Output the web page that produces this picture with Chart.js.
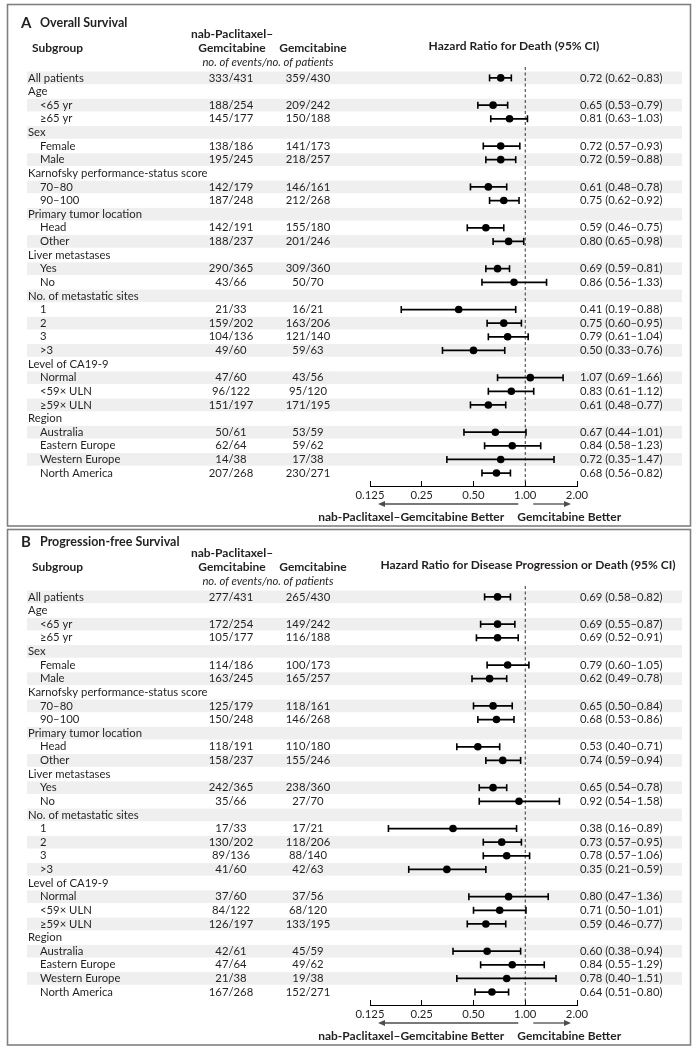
<!DOCTYPE html>
<html>
<head>
<meta charset="utf-8">
<script src="https://cdn.jsdelivr.net/npm/chart.js@4.4.1/dist/chart.umd.min.js"></script>
<style>
  body { margin: 0; background: #fff; }
  #wrap { position: relative; width: 698px; height: 1050px; }
  canvas { position: absolute; left: 0; }
  #osChart { top: 0; }
  #pfsChart { top: 519px; }
</style>
</head>
<body>
<div id="wrap">
  <canvas id="osChart" width="698" height="528"></canvas>
  <canvas id="pfsChart" width="698" height="531"></canvas>
</div>
<script>
// --- data ---
const subgroups = ['All patients', 'Age', '<65 yr', '≥65 yr', 'Sex', 'Female', 'Male',
  'Karnofsky performance-status score', '70–80', '90–100', 'Primary tumor location', 'Head', 'Other',
  'Liver metastases', 'Yes', 'No', 'No. of metastatic sites', '1', '2', '3', '>3',
  'Level of CA19-9', 'Normal', '<59× ULN', '≥59× ULN', 'Region', 'Australia', 'Eastern Europe',
  'Western Europe', 'North America'];
// 0 = group heading, 1 = indented subgroup
const indent = [0, 0, 1, 1, 0, 1, 1, 0, 1, 1, 0, 1, 1, 0, 1, 1, 0, 1, 1, 1, 1, 0, 1, 1, 1, 0, 1, 1, 1, 1];

// Overall survival
const osNab = ['333/431', null, '188/254', '145/177', null, '138/186', '195/245', null, '142/179', '187/248',
  null, '142/191', '188/237', null, '290/365', '43/66', null, '21/33', '159/202', '104/136', '49/60',
  null, '47/60', '96/122', '151/197', null, '50/61', '62/64', '14/38', '207/268'];
const osGem = ['359/430', null, '209/242', '150/188', null, '141/173', '218/257', null, '146/161', '212/268',
  null, '155/180', '201/246', null, '309/360', '50/70', null, '16/21', '163/206', '121/140', '59/63',
  null, '43/56', '95/120', '171/195', null, '53/59', '59/62', '17/38', '230/271'];
const osHR = [0.72, null, 0.65, 0.81, null, 0.72, 0.72, null, 0.61, 0.75, null, 0.59, 0.80, null, 0.69, 0.86,
  null, 0.41, 0.75, 0.79, 0.50, null, 1.07, 0.83, 0.61, null, 0.67, 0.84, 0.72, 0.68];
const osLow = [0.62, null, 0.53, 0.63, null, 0.57, 0.59, null, 0.48, 0.62, null, 0.46, 0.65, null, 0.59, 0.56,
  null, 0.19, 0.60, 0.61, 0.33, null, 0.69, 0.61, 0.48, null, 0.44, 0.58, 0.35, 0.56];
const osHigh = [0.83, null, 0.79, 1.03, null, 0.93, 0.88, null, 0.78, 0.92, null, 0.75, 0.98, null, 0.81, 1.33,
  null, 0.88, 0.95, 1.04, 0.76, null, 1.66, 1.12, 0.77, null, 1.01, 1.23, 1.47, 0.82];

// Progression-free survival
const pfsNab = ['277/431', null, '172/254', '105/177', null, '114/186', '163/245', null, '125/179', '150/248',
  null, '118/191', '158/237', null, '242/365', '35/66', null, '17/33', '130/202', '89/136', '41/60',
  null, '37/60', '84/122', '126/197', null, '42/61', '47/64', '21/38', '167/268'];
const pfsGem = ['265/430', null, '149/242', '116/188', null, '100/173', '165/257', null, '118/161', '146/268',
  null, '110/180', '155/246', null, '238/360', '27/70', null, '17/21', '118/206', '88/140', '42/63',
  null, '37/56', '68/120', '133/195', null, '45/59', '49/62', '19/38', '152/271'];
const pfsHR = [0.69, null, 0.69, 0.69, null, 0.79, 0.62, null, 0.65, 0.68, null, 0.53, 0.74, null, 0.65, 0.92,
  null, 0.38, 0.73, 0.78, 0.35, null, 0.80, 0.71, 0.59, null, 0.60, 0.84, 0.78, 0.64];
const pfsLow = [0.58, null, 0.55, 0.52, null, 0.60, 0.49, null, 0.50, 0.53, null, 0.40, 0.59, null, 0.54, 0.54,
  null, 0.16, 0.57, 0.57, 0.21, null, 0.47, 0.50, 0.46, null, 0.38, 0.55, 0.40, 0.51];
const pfsHigh = [0.82, null, 0.87, 0.91, null, 1.05, 0.78, null, 0.84, 0.86, null, 0.71, 0.94, null, 0.78, 1.58,
  null, 0.89, 0.95, 1.06, 0.59, null, 1.36, 1.01, 0.77, null, 0.94, 1.29, 1.51, 0.80];

const tickValues = [0.125, 0.25, 0.5, 1, 2];
const tickLabels = ['0.125', '0.25', '0.50', '1.00', '2.00'];

const FONT = 'Lato, "Open Sans", sans-serif';
const INK = '#231f20';

function drawArrow(ctx, from, to, y) {
  const dir = to > from ? 1 : -1;
  ctx.beginPath();
  ctx.moveTo(from, y);
  ctx.lineTo(to - dir * 6, y);
  ctx.stroke();
  ctx.beginPath();
  ctx.moveTo(to, y);
  ctx.lineTo(to - dir * 7, y - 3);
  ctx.lineTo(to - dir * 7, y + 3);
  ctx.closePath();
  ctx.fill();
}

// table text, shaded rows, frame and the "better" arrows
const forestTable = {
  id: 'forestTable',
  beforeDraw(chart, args, opts) {
    const { ctx } = chart;
    const ys = chart.scales.y;
    ctx.save();
    ctx.fillStyle = '#efefef';
    subgroups.forEach((s, i) => {
      if (i % 2) return;
      const top = ys.getPixelForValue(i - 0.5);
      const bot = ys.getPixelForValue(i + 0.5);
      ctx.fillRect(27, top + 0.5, 655, bot - top - 1);
    });
    ctx.strokeStyle = '#808080';
    ctx.lineWidth = 1.6;
    ctx.strokeRect(7.5, opts.frameTop, 683, 526 - opts.frameTop);
    ctx.restore();
  },
  afterDraw(chart, args, opts) {
    const { ctx, chartArea } = chart;
    const ys = chart.scales.y;
    const xs = chart.scales.x;
    ctx.save();
    ctx.fillStyle = INK;
    ctx.textBaseline = 'middle';

    // headings
    ctx.textAlign = 'left';
    ctx.font = `bold 15px ${FONT}`;
    ctx.fillText(opts.letter, 21, 23);
    ctx.font = `bold 12.5px ${FONT}`;
    ctx.fillText(opts.title, 40, 23);
    ctx.font = `bold 12px ${FONT}`;
    ctx.fillText('Subgroup', 32, 48);
    ctx.textAlign = 'center';
    ctx.fillText('nab-Paclitaxel–', 232, 34);
    ctx.fillText('Gemcitabine', 232, 48);
    ctx.fillText('Gemcitabine', 313, 48);
    ctx.fillText(opts.hrTitle, opts.hrTitleX, 46);
    ctx.font = `italic 11.3px ${FONT}`;
    ctx.fillText('no. of events/no. of patients', 268, 62);

    // rows
    ctx.font = `11.3px ${FONT}`;
    subgroups.forEach((name, i) => {
      const y = ys.getPixelForValue(i);
      ctx.textAlign = 'left';
      ctx.fillText(name, indent[i] ? 40 : 28, y);
      if (opts.nab[i]) {
        ctx.textAlign = 'center';
        ctx.fillText(opts.nab[i], 231, y);
        ctx.fillText(opts.gem[i], 308, y);
      }
      if (opts.hr[i] != null) {
        ctx.textAlign = 'left';
        const txt = `${opts.hr[i].toFixed(2)} (${opts.low[i].toFixed(2)}–${opts.high[i].toFixed(2)})`;
        ctx.fillText(txt, 580, y);
      }
    });

    // arrows under the axis
    const x1 = xs.getPixelForValue(1);
    const x0 = xs.getPixelForValue(tickValues[0]);
    const x2 = xs.getPixelForValue(tickValues[tickValues.length - 1]);
    const ay = chartArea.bottom + 18;
    ctx.strokeStyle = '#4d4d4d';
    ctx.fillStyle = '#4d4d4d';
    ctx.lineWidth = 1.3;
    drawArrow(ctx, x1 - 7, x0 + 8, ay);
    drawArrow(ctx, x1 + 8, x2 - 6, ay);

    ctx.fillStyle = INK;
    ctx.font = `bold 12px ${FONT}`;
    ctx.textAlign = 'right';
    ctx.fillText('nab-Paclitaxel–Gemcitabine Better', x1 - 21, chartArea.bottom + 31);
    ctx.textAlign = 'left';
    ctx.fillText('Gemcitabine Better', x1 - 8, chartArea.bottom + 31);
    ctx.restore();
  }
};

function makeForest(id, hr, low, high, nab, gem, letter, title, hrTitle, hrTitleX, frameTop) {
  const canvas = document.getElementById(id);
  const points = [];
  const bars = [];
  hr.forEach((v, i) => {
    if (v == null) return;
    points.push({ x: v, y: i });
    bars.push({ x: low[i], y: i }, { x: high[i], y: i }, { x: NaN, y: NaN });
  });
  return new Chart(canvas, {
    type: 'scatter',
    data: {
      datasets: [
        {
          label: 'Hazard ratio',
          data: points,
          pointStyle: 'circle',
          pointRadius: 3.8,
          backgroundColor: '#000',
          borderColor: '#000',
          borderWidth: 0
        },
        {
          label: '95% CI',
          data: bars,
          showLine: true,
          spanGaps: false,
          borderColor: '#000',
          borderWidth: 1.8,
          pointStyle: 'line',
          rotation: 90,
          pointRadius: 3.5,
          pointBorderWidth: 1.6,
          pointBorderColor: '#000'
        },
        {
          label: 'No effect',
          data: [{ x: 1, y: -0.8 }, { x: 1, y: 29.95 }],
          showLine: true,
          borderColor: '#333',
          borderWidth: 1,
          borderDash: [3, 2.5],
          pointRadius: 0
        }
      ]
    },
    options: {
      responsive: false,
      devicePixelRatio: 1,
      animation: false,
      layout: { padding: { left: 370, right: 121, top: 67, bottom: canvas.height - 486 - 42 } },
      plugins: {
        legend: { display: false },
        tooltip: { enabled: false },
        forestTable: { letter, title, hrTitle, hrTitleX, frameTop, hr, low, high, nab, gem }
      },
      scales: {
        x: {
          type: 'logarithmic',
          min: 0.125,
          max: 2,
          afterBuildTicks: s => { s.ticks = tickValues.map(v => ({ value: v })); },
          afterFit: s => { s.height = 42; },
          border: { display: true, color: '#000', width: 1 },
          grid: { drawOnChartArea: false, drawTicks: true, tickLength: -5, color: '#000', lineWidth: 1 },
          ticks: {
            padding: 8,
            color: INK,
            autoSkip: false,
            maxRotation: 0,
            font: { family: FONT, size: 11.3 },
            callback: (v, i) => tickLabels[i]
          }
        },
        y: { type: 'linear', reverse: true, min: -0.8, max: 29.95, display: false }
      }
    },
    plugins: [forestTable]
  });
}

makeForest('osChart', osHR, osLow, osHigh, osNab, osGem, 'A', 'Overall Survival',
  'Hazard Ratio for Death (95% CI)', 514, 4.5);
makeForest('pfsChart', pfsHR, pfsLow, pfsHigh, pfsNab, pfsGem, 'B', 'Progression-free Survival',
  'Hazard Ratio for Disease Progression or Death (95% CI)', 528, 10.5);
</script>
</body>
</html>
